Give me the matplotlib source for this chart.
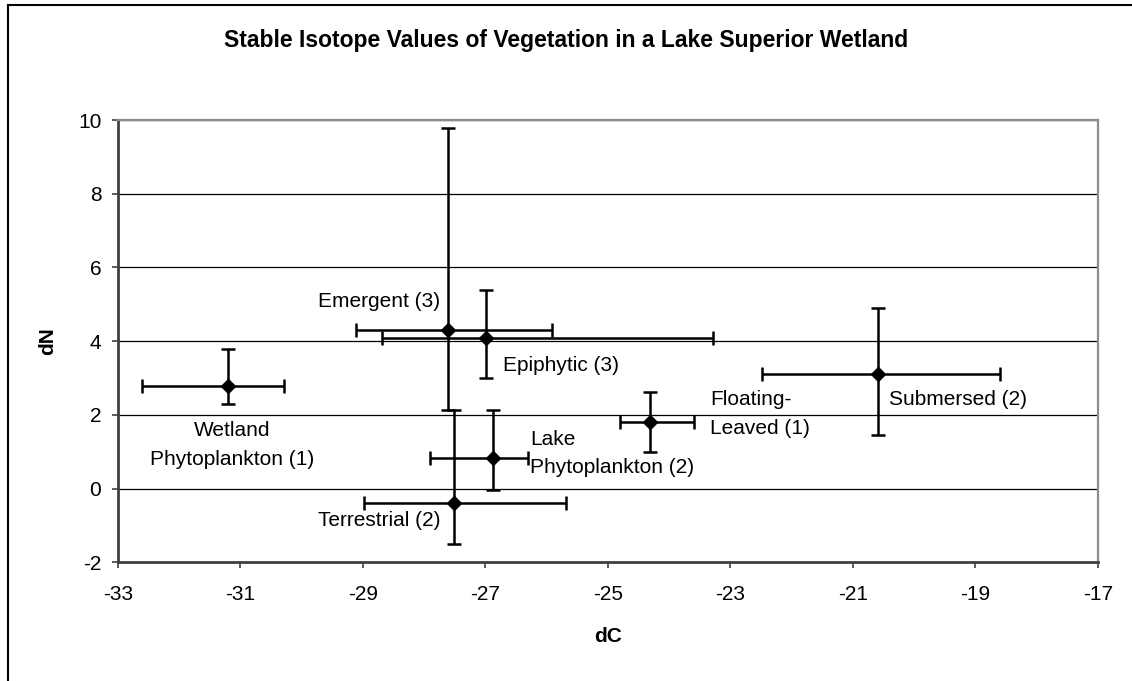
import matplotlib
matplotlib.use("Agg")
import matplotlib.pyplot as plt
from matplotlib.lines import Line2D
import numpy as np

plt.rcParams['font.family'] = ['Liberation Sans', 'DejaVu Sans']

# Data (dC = x, dN = y), error bar bounds as drawn
groups = ["Wetland Phytoplankton", "Emergent", "Epiphytic", "Terrestrial",
          "Lake Phytoplankton", "Floating-Leaved", "Submersed"]
dC = [-31.20, -27.61, -26.99, -27.51, -26.88, -24.31, -20.58]
dN = [2.78, 4.29, 4.09, -0.38, 0.83, 1.80, 3.10]
dC_low = [-32.61, -29.11, -28.69, -28.98, -27.90, -24.80, -22.48]
dC_high = [-30.29, -25.91, -23.29, -25.69, -26.31, -23.59, -18.59]
dN_low = [2.29, 2.12, 3.00, -1.50, -0.05, 0.98, 1.46]
dN_high = [3.80, 9.77, 5.38, 2.12, 2.12, 2.61, 4.90]

labels = ["Wetland\nPhytoplankton (1)", "Emergent (3)", "Epiphytic (3)",
          "Terrestrial (2)", "Lake\nPhytoplankton (2)", "Floating-\nLeaved (1)",
          "Submersed (2)"]
label_x = [-31.14, -29.73, -26.72, -29.73, -26.27, -23.33, -20.41]
label_y = [1.19, 5.08, 3.35, -0.86, 0.95, 2.03, 2.43]
label_ha = ["center", "left", "left", "left", "left", "left", "left"]

x_ticks = [-33, -31, -29, -27, -25, -23, -21, -19, -17]
y_ticks = [-2, 0, 2, 4, 6, 8, 10]

W, H = 1132, 681
fig = plt.figure(figsize=(W / 100, H / 100), dpi=100)
ax = fig.add_axes([118 / W, 1 - 562.3 / H, (1097.7 - 118) / W, (562.3 - 120) / H])

x = np.array(dC)
y = np.array(dN)
xerr = [x - np.array(dC_low), np.array(dC_high) - x]
yerr = [y - np.array(dN_low), np.array(dN_high) - y]

ax.errorbar(x, y, xerr=xerr, yerr=yerr, fmt='D', color='black', ms=7,
            ecolor='black', elinewidth=1.8, capsize=5, capthick=1.8, zorder=3)

for lx, ly, t, ha in zip(label_x, label_y, labels, label_ha):
    ax.text(lx, ly, t, ha=ha, va='center', fontsize=15, color='black',
            linespacing=1.65, multialignment='center' if ha == 'center' else 'left')

ax.set_xlim(-33, -17)
ax.set_ylim(-2, 10)
ax.set_xticks(x_ticks)
ax.set_yticks(y_ticks)
ax.set_xticklabels([str(v) for v in x_ticks])
ax.set_yticklabels([str(v) for v in y_ticks])

ax.yaxis.grid(True, color='black', lw=0.9)
ax.set_axisbelow(True)

for s in ['left', 'bottom']:
    ax.spines[s].set_color('#404040')
    ax.spines[s].set_linewidth(2)
for s in ['top', 'right']:
    ax.spines[s].set_color('#8c8c8c')
    ax.spines[s].set_linewidth(1.6)

ax.tick_params(axis='both', direction='out', length=4, width=1.2,
               color='#404040', labelsize=15)
ax.tick_params(axis='x', pad=12)
ax.tick_params(axis='y', pad=8)

ax.set_xlabel('dC', fontsize=15, fontweight='bold', labelpad=17)
ax.set_ylabel('dN', fontsize=15, fontweight='bold', labelpad=15)

fig.text(566 / W, 1 - 41 / H, 'Stable Isotope Values of Vegetation in a Lake Superior Wetland',
         ha='center', va='center', fontsize=16.5, fontweight='bold')

# outer chart frame (left and top edges visible)
fig.add_artist(Line2D([7.5 / W, 7.5 / W], [0, 1 - 5 / H], transform=fig.transFigure,
                      color='black', lw=1.5))
fig.add_artist(Line2D([7.5 / W, 1], [1 - 5 / H, 1 - 5 / H], transform=fig.transFigure,
                      color='black', lw=1.5))

fig.savefig('out.png', dpi=100)
